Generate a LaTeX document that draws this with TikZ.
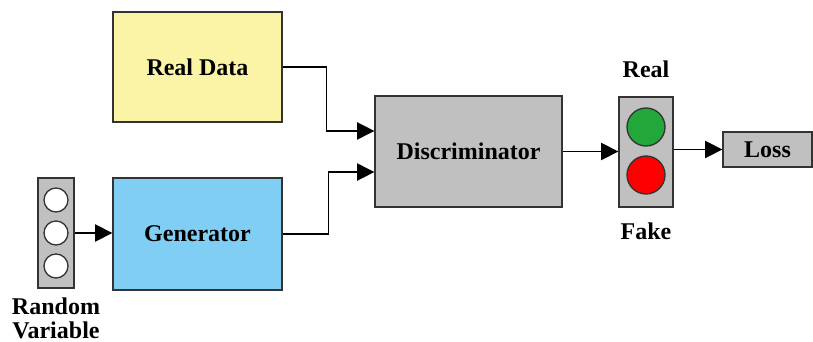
\documentclass[tikz,border=0pt]{standalone}
\usepackage{fontspec}
\setmainfont{Liberation Serif}
\usetikzlibrary{arrows.meta,positioning}
\definecolor{realdata}{HTML}{FBF4A6}
\definecolor{generator}{HTML}{80CEF3}
\definecolor{boxgray}{HTML}{C0C0C0}
\definecolor{realgreen}{HTML}{22A83A}
\definecolor{fakered}{HTML}{FF0000}

\begin{document}
\begin{tikzpicture}[x=0.75pt, y=-0.75pt,
    font=\bfseries\fontsize{18}{17.5}\selectfont,
    box/.style={draw=black!80, line width=1pt, inner sep=0pt},
    dot/.style={draw=black!80, circle, line width=1pt, inner sep=0pt},
    flow/.style={-{Triangle[length=13pt,width=13pt]}, line width=1.1pt}]
  \useasboundingbox (0,0) rectangle (813,342);

  \node[box, fill=realdata, minimum width=126.75pt, minimum height=82.5pt] (R) at (197.5,67) {Real Data};
  \node[box, fill=generator, minimum width=126.75pt, minimum height=84pt] (G) at (197.5,234) {Generator};
  \node[box, fill=boxgray, minimum width=140.25pt, minimum height=83.25pt] (D) at (468.5,151.5) {Discriminator};
  \node[box, fill=boxgray, minimum width=66.75pt, minimum height=26.25pt] (L) at (767.5,149.5) {Loss};

  % random variable
  \node[box, fill=boxgray, minimum width=27pt, minimum height=82.5pt] (RV) at (56,233) {};
  \foreach \y/\n in {-33/1, 0/2, 33/3}
    \node[dot, fill=white, minimum size=18pt] (rv\n) at ([yshift=-\y*0.75pt]RV.center) {};
  \node[below=7pt of RV, align=center, inner sep=0pt] (RVlabel) {Random\\Variable};

  % real / fake output
  \node[box, fill=boxgray, minimum width=40.5pt, minimum height=82.5pt] (RF) at (646,152) {};
  \node[dot, fill=realgreen, minimum size=28.5pt] (real) at ([yshift=18.75pt]RF.center) {};
  \node[dot, fill=fakered, minimum size=28.5pt] (fake) at ([yshift=-17.25pt]RF.center) {};
  \node[above=14pt of RF, inner sep=0pt] (realLbl) {Real};
  \node[below=11pt of RF, inner sep=0pt] (fakeLbl) {Fake};

  \draw[flow] (RV.east) -- (RV.east -| G.west);
  \draw[flow] (R.east) -- ++(44,0) |- ([yshift=15.4pt]D.west);
  \draw[flow] (G.east) -- ++(46,0) |- ([yshift=-15.4pt]D.west);
  \draw[flow] (D.east) -- (D.east -| RF.west);
  \draw[flow] (L.west -| RF.east) -- (L.west);
\end{tikzpicture}
\end{document}
